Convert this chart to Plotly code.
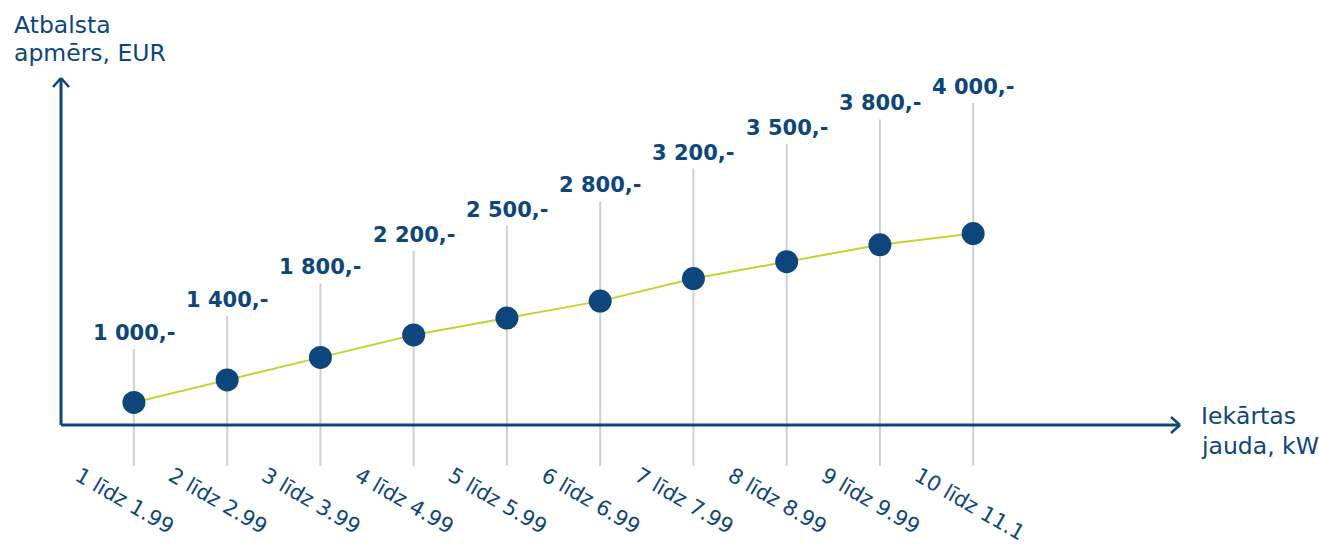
import plotly.graph_objects as go

# ---- data ----
categories = ["1 līdz 1.99", "2 līdz 2.99", "3 līdz 3.99", "4 līdz 4.99", "5 līdz 5.99",
              "6 līdz 6.99", "7 līdz 7.99", "8 līdz 8.99", "9 līdz 9.99", "10 līdz 11.1"]
support_eur = [1000, 1400, 1800, 2200, 2500, 2800, 3200, 3500, 3800, 4000]
value_labels = ["1 000,-", "1 400,-", "1 800,-", "2 200,-", "2 500,-",
                "2 800,-", "3 200,-", "3 500,-", "3 800,-", "4 000,-"]
y_title_lines = ["Atbalsta", "apmērs, EUR"]
x_title_lines = ["Iekārtas", "jauda, kW"]

# ---- style ----
NAVY = "#0c467d"
LIME = "#c5d32c"
GREY = "#cfcfcf"
FONT = "DejaVu Sans"
STEM_BASE = -427          # stems extend a little below the axis line
AXIS_Y_PAPER = 0.1103     # x axis line position in paper coords

fig = go.Figure()

# grey stems (primary y)
sx, sy = [], []
for c, v in zip(categories, support_eur):
    sx += [c, c, None]
    sy += [STEM_BASE, v, None]
fig.add_trace(go.Scatter(x=sx, y=sy, mode="lines", line=dict(color=GREY, width=2),
                         hoverinfo="skip", showlegend=False))

# line + markers (secondary y, drawn on top)
fig.add_trace(go.Scatter(x=categories, y=support_eur, mode="lines+markers", yaxis="y2",
                         line=dict(color=LIME, width=2),
                         marker=dict(color=NAVY, size=23, line=dict(width=0)),
                         showlegend=False))

annotations = []
for c, v, t in zip(categories, support_eur, value_labels):
    annotations.append(dict(x=c, y=v, xref="x", yref="y", text=t, showarrow=False,
                            xanchor="center", yanchor="bottom", yshift=2,
                            font=dict(family=FONT, size=21, color=NAVY, weight="bold")))

for txt, yy in zip(y_title_lines, [1.1359, 1.0641]):
    annotations.append(dict(x=-0.0437, y=yy, xref="paper", yref="paper", text=txt,
                            showarrow=False, xanchor="left", yanchor="middle",
                            font=dict(family=FONT, size=23.5, color=NAVY)))
for txt, yy in zip(x_title_lines, [0.1333, 0.0564]):
    annotations.append(dict(x=1.0170, y=yy, xref="paper", yref="paper", text=txt,
                            showarrow=False, xanchor="left", yanchor="middle",
                            font=dict(family=FONT, size=23.5, color=NAVY)))

shapes = [
    dict(type="line", xref="paper", yref="paper", x0=0, x1=1, y0=AXIS_Y_PAPER, y1=AXIS_Y_PAPER,
         line=dict(color=NAVY, width=3)),
    dict(type="line", xref="paper", yref="paper", x0=0, x1=0, y0=AXIS_Y_PAPER, y1=1,
         line=dict(color=NAVY, width=3)),
]
# chevron arrow heads
for dx, dy in [(-9, 8), (-9, -8)]:
    shapes.append(dict(type="line", xref="paper", yref="paper", xsizemode="pixel", ysizemode="pixel",
                       xanchor=1, yanchor=AXIS_Y_PAPER, x0=dx, y0=dy, x1=0, y1=0,
                       line=dict(color=NAVY, width=2.5)))
for dx, dy in [(-8, -9), (8, -9)]:
    shapes.append(dict(type="line", xref="paper", yref="paper", xsizemode="pixel", ysizemode="pixel",
                       xanchor=0, yanchor=1, x0=dx, y0=dy, x1=0, y1=0,
                       line=dict(color=NAVY, width=2.5)))

fig.update_layout(
    width=1319, height=548, autosize=False,
    margin=dict(l=61, r=139, t=78, b=80),
    paper_bgcolor="white", plot_bgcolor="white",
    xaxis=dict(type="category", range=[-0.782, 11.218], showgrid=False, zeroline=False,
               showline=False, ticks="", tickangle=30, ticklabelshift=-55, ticklabelstandoff=-9,
               automargin=False,
               tickfont=dict(family=FONT, size=21, color=NAVY)),
    yaxis=dict(range=[-451, 4305], visible=False, fixedrange=True, automargin=False),
    yaxis2=dict(range=[-164, 6763], visible=False, overlaying="y", fixedrange=True,
                automargin=False),
    annotations=annotations,
    shapes=shapes,
    showlegend=False,
)

fig.write_html(
    "out.html",
    config={"responsive": False, "displayModeBar": False},
    post_script="document.body.style.margin='0';document.body.style.overflow='hidden';",
)
